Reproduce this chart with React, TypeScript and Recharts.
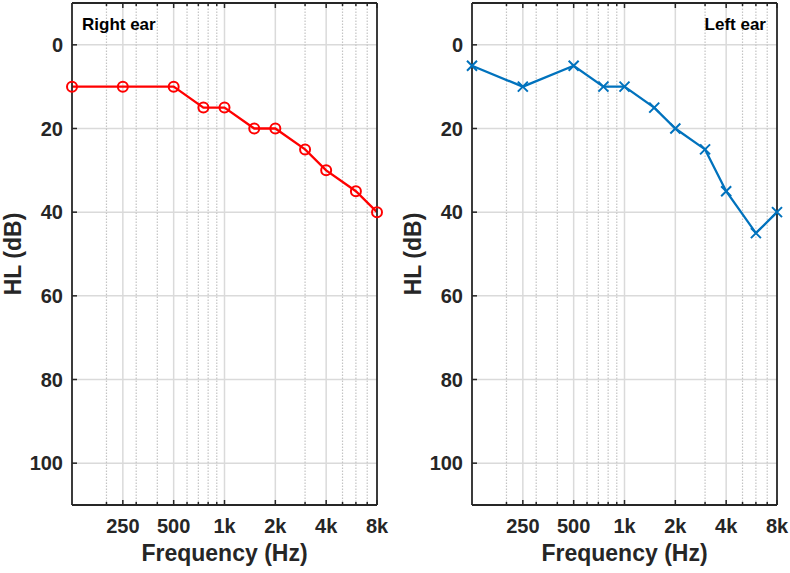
import React from "react";
import { LineChart, Line, XAxis, YAxis, CartesianGrid, ReferenceLine } from "recharts";

// audiogram thresholds, dB HL per test frequency
const freqs = [125, 250, 500, 750, 1000, 1500, 2000, 3000, 4000, 6000, 8000];
const rightEar = [10, 10, 10, 15, 15, 20, 20, 25, 30, 35, 40];
const leftEar = [5, 10, 5, 10, 10, 15, 20, 25, 35, 45, 40];

const majorFreqs = [250, 500, 1000, 2000, 4000, 8000];
const majorLabels = ["250", "500", "1k", "2k", "4k", "8k"];
const minorFreqs = [200, 300, 400, 600, 700, 800, 900, 3000, 5000, 6000, 7000];
const hlTicks = [0, 20, 40, 60, 80, 100];

const allFreqTicks = [...minorFreqs, ...majorFreqs].sort((a, b) => a - b);

const AXIS = "#262626";
const FONT = "'Liberation Sans', Arial, Helvetica, sans-serif";
const W = 390;
const H = 573;

const tickText: React.CSSProperties = {
  fontFamily: FONT,
  fontWeight: 700,
  fontSize: 20,
  fill: AXIS,
};

const tickLen = (v: number) => (majorFreqs.includes(v) ? 5 : 3);

const BottomTick = (props: any) => {
  const { x, y, payload } = props;
  const i = majorFreqs.indexOf(payload.value);
  return (
    <g>
      <line x1={x} x2={x} y1={y} y2={y - tickLen(payload.value)} stroke={AXIS} strokeWidth={1.5} />
      {i >= 0 && (
        <text x={x} y={y + 28} textAnchor="middle" style={tickText}>
          {majorLabels[i]}
        </text>
      )}
    </g>
  );
};

const TopTick = (props: any) => {
  const { x, y, payload } = props;
  return <line x1={x} x2={x} y1={y} y2={y + tickLen(payload.value)} stroke={AXIS} strokeWidth={1.5} />;
};

const LeftTick = (props: any) => {
  const { x, y, payload } = props;
  return (
    <g>
      <line x1={x} x2={x + 5} y1={y} y2={y} stroke={AXIS} strokeWidth={1.5} />
      <text x={x - 9} y={y + 7} textAnchor="end" style={tickText}>
        {payload.value}
      </text>
    </g>
  );
};

const RightTick = (props: any) => {
  const { x, y } = props;
  return <line x1={x - 5} x2={x} y1={y} y2={y} stroke={AXIS} strokeWidth={1.5} />;
};

const labelText: React.CSSProperties = {
  fontFamily: FONT,
  fontWeight: 700,
  fontSize: 23,
  fill: AXIS,
};

const XLabel = (props: any) => {
  const vb = props.viewBox || {};
  const cx = vb.width != null ? vb.x + vb.width / 2 : 224;
  const by = vb.y != null ? vb.y + 56 : 561;
  return (
    <text x={cx} y={by} textAnchor="middle" style={labelText}>
      Frequency (Hz)
    </text>
  );
};

const YLabel = (props: any) => {
  const vb = props.viewBox || {};
  const cy = vb.height != null ? vb.y + vb.height / 2 : 254;
  return (
    <text x={21} y={cy} transform={`rotate(-90 21 ${cy})`} textAnchor="middle" style={labelText}>
      HL (dB)
    </text>
  );
};

const Circle = (props: any) => {
  const { cx, cy, stroke } = props;
  if (cx == null || cy == null) return null;
  return <circle cx={cx} cy={cy} r={5} fill="none" stroke={stroke} strokeWidth={2} />;
};

const Cross = (props: any) => {
  const { cx, cy, stroke } = props;
  if (cx == null || cy == null) return null;
  const s = 5;
  return (
    <path
      d={`M${cx - s},${cy - s}L${cx + s},${cy + s}M${cx - s},${cy + s}L${cx + s},${cy - s}`}
      stroke={stroke}
      strokeWidth={2}
      fill="none"
    />
  );
};

interface PanelProps {
  values: number[];
  color: string;
  marker: "o" | "x";
  title: string;
  titleRight?: boolean;
}

const Panel: React.FC<PanelProps> = ({ values, color, marker, title, titleRight }) => {
  const data = freqs.map((f, i) => ({ f, hl: values[i] }));
  return (
    <div style={{ position: "relative", width: W, height: H }}>
      <LineChart width={W} height={H} data={data} margin={{ top: 2, right: 12, bottom: 0, left: 0 }}>
        <CartesianGrid vertical={false} stroke="#dadada" strokeWidth={1.5} />
        {minorFreqs.map((f) => (
          <ReferenceLine key={`m${f}`} x={f} stroke="#c4c4c4" strokeWidth={1.2} strokeDasharray="1.5 1.5" />
        ))}
        {majorFreqs.slice(0, -1).map((f) => (
          <ReferenceLine key={`M${f}`} x={f} stroke="#dadada" strokeWidth={1.5} />
        ))}
        <XAxis
          dataKey="f"
          type="number"
          scale="log"
          domain={[125, 8000]}
          ticks={allFreqTicks}
          interval={0}
          tickSize={0}
          tickMargin={0}
          tickLine={false}
          tick={<BottomTick />}
          height={68}
          axisLine={{ stroke: AXIS, strokeWidth: 2 }}
          label={{ content: XLabel }}
        />
        <XAxis
          xAxisId="top"
          orientation="top"
          dataKey="f"
          type="number"
          scale="log"
          domain={[125, 8000]}
          ticks={allFreqTicks}
          interval={0}
          tickSize={0}
          tickMargin={0}
          tickLine={false}
          tick={<TopTick />}
          height={1}
          axisLine={{ stroke: AXIS, strokeWidth: 2 }}
        />
        <YAxis
          type="number"
          reversed
          domain={[-10, 110]}
          ticks={hlTicks}
          interval={0}
          tickSize={0}
          tickMargin={0}
          tickLine={false}
          tick={<LeftTick />}
          width={72}
          axisLine={{ stroke: AXIS, strokeWidth: 1.8 }}
          label={{ content: YLabel }}
        />
        <YAxis
          yAxisId="right"
          orientation="right"
          type="number"
          reversed
          domain={[-10, 110]}
          ticks={hlTicks}
          interval={0}
          tickSize={0}
          tickMargin={0}
          tickLine={false}
          tick={<RightTick />}
          width={1}
          axisLine={{ stroke: AXIS, strokeWidth: 1.8 }}
        />
        <Line
          type="linear"
          dataKey="hl"
          stroke={color}
          strokeWidth={2.3}
          dot={marker === "o" ? <Circle stroke={color} /> : <Cross stroke={color} />}
          activeDot={false}
          isAnimationActive={false}
        />
      </LineChart>
      <div
        style={{
          position: "absolute",
          top: 16,
          left: titleRight ? undefined : 82,
          right: titleRight ? 24 : undefined,
          fontFamily: FONT,
          fontWeight: 700,
          fontSize: 17,
          lineHeight: "17px",
          color: "#000",
          whiteSpace: "nowrap",
        }}
      >
        {title}
      </div>
    </div>
  );
};

export default function App() {
  return (
    <div style={{ position: "absolute", left: 0, top: 0, width: 790, height: 573, background: "#fff" }}>
      <div style={{ position: "absolute", left: 0, top: 0 }}>
        <Panel values={rightEar} color="#ff0000" marker="o" title="Right ear" />
      </div>
      <div style={{ position: "absolute", left: 400, top: 0 }}>
        <Panel values={leftEar} color="#0072bd" marker="x" title="Left ear" titleRight />
      </div>
    </div>
  );
}
